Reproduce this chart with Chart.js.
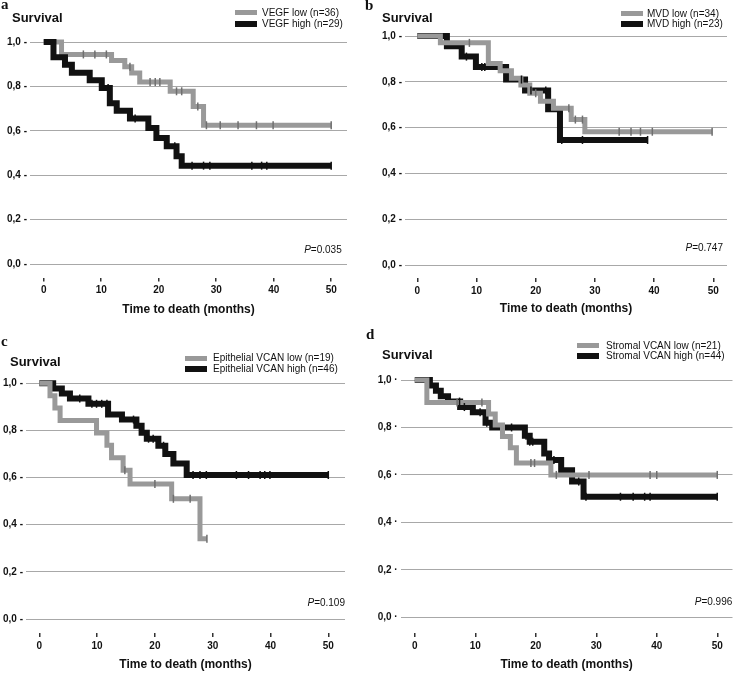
<!DOCTYPE html>
<html>
<head>
<meta charset="utf-8">
<script src="https://cdn.jsdelivr.net/npm/chart.js@4.4.1/dist/chart.umd.min.js"></script>
<style>
  body { margin: 0; background: #fff; }
  #page { position: relative; width: 738px; height: 673px; overflow: hidden; font-family: Arial, "Liberation Sans", sans-serif; color: #111; }
  canvas { position: absolute; }
  .txt { position: absolute; white-space: nowrap; }
  .letter { font-family: "Liberation Serif", "Times New Roman", serif; font-weight: bold; font-size: 15px; }
  .surv { font-weight: bold; font-size: 13px; line-height: 16px; }
  .pval { font-size: 10px; line-height: 12px; }
  .leg { font-size: 10px; line-height: 12px; display: flex; align-items: center; }
  .sw { display: inline-block; width: 22px; }
</style>
</head>
<body>
<div id="page"></div>
<script>
// tick values
const xTicks = [0, 10, 20, 30, 40, 50];
const yTicks = [0, 0.2, 0.4, 0.6, 0.8, 1.0];

// a: VEGF
const vegfLowTime = [0, 3.1, 11.8, 14.1, 15.3, 16.7, 22.0, 26.0, 27.8];
const vegfLowSurv = [1, 0.944, 0.917, 0.888, 0.86, 0.82, 0.778, 0.71, 0.625];
const vegfLowCens = [6.9, 8.9, 10.9, 15.0, 18.5, 19.4, 20.2, 23.1, 24.0, 26.8, 28.3, 30.7, 33.8, 37.0, 39.9, 50];
const vegfHighTime = [0, 1.7, 3.7, 4.9, 8.0, 10.1, 11.5, 12.7, 15.0, 18.2, 19.6, 21.4, 23.1, 24.0];
const vegfHighSurv = [1, 0.931, 0.897, 0.862, 0.828, 0.793, 0.724, 0.69, 0.655, 0.613, 0.568, 0.53, 0.485, 0.443];
const vegfHighCens = [11.2, 15.9, 22.8, 25.8, 27.8, 28.9, 36.2, 37.9, 38.8, 50];

// b: MVD
const mvdLowTime = [0, 3.9, 12.0, 14.0, 15.9, 17.5, 19.0, 20.8, 23.0, 26.0, 28.3];
const mvdLowSurv = [1, 0.97, 0.88, 0.848, 0.815, 0.786, 0.75, 0.715, 0.684, 0.635, 0.582];
const mvdLowCens = [8.8, 20.0, 25.6, 26.7, 27.9, 34.1, 36.1, 37.7, 39.7, 49.8];
const mvdHighTime = [0, 5.0, 7.5, 9.9, 15.0, 18.2, 22.1, 24.1];
const mvdHighSurv = [1, 0.955, 0.91, 0.865, 0.81, 0.762, 0.68, 0.546];
const mvdHighCens = [8.3, 10.9, 11.4, 17.6, 19.2, 21.7, 24.4, 27.9, 38.9];

// c: Epithelial VCAN
const epiLowTime = [0, 1.85, 2.7, 3.6, 9.9, 11.7, 12.5, 14.5, 15.7, 22.9, 27.8];
const epiLowSurv = [1, 0.947, 0.895, 0.842, 0.789, 0.737, 0.684, 0.631, 0.573, 0.51, 0.34];
const epiLowCens = [14.8, 20.0, 23.2, 26.1, 29.0];
const epiHighTime = [0, 2.4, 3.9, 5.3, 8.5, 11.9, 14.3, 16.8, 17.7, 18.6, 20.6, 21.8, 23.2, 25.5];
const epiHighSurv = [1, 0.978, 0.957, 0.935, 0.913, 0.868, 0.846, 0.82, 0.79, 0.765, 0.735, 0.70, 0.66, 0.611];
const epiHighCens = [7.0, 9.1, 9.9, 10.8, 11.7, 16.3, 18.9, 19.7, 21.5, 26.6, 27.8, 28.9, 34.1, 36.2, 38.2, 39.0, 39.9, 50];

// d: Stromal VCAN
const stroLowTime = [0, 2.0, 12.2, 13.3, 14.5, 15.8, 16.8, 22.5];
const stroLowSurv = [1, 0.905, 0.857, 0.81, 0.762, 0.714, 0.65, 0.60];
const stroLowCens = [7.0, 11.1, 19.2, 19.8, 23.4, 28.8, 38.9, 40.0, 50];
const stroHighTime = [0, 2.5, 3.5, 4.3, 5.5, 7.5, 9.6, 11.7, 12.8, 18.2, 19.0, 21.4, 22.2, 24.2, 26.0, 27.9];
const stroHighSurv = [1, 0.977, 0.955, 0.932, 0.909, 0.886, 0.864, 0.82, 0.80, 0.765, 0.74, 0.69, 0.663, 0.62, 0.572, 0.508];
const stroHighCens = [7.4, 8.2, 10.8, 11.9, 16.0, 18.4, 19.0, 19.5, 23.0, 27.1, 28.3, 34.0, 36.1, 38.0, 38.9, 50];

const panelLetters = ["a", "b", "c", "d"];
const lowNames = ["VEGF low (n=36)", "MVD low (n=34)", "Epithelial VCAN low (n=19)", "Stromal VCAN low (n=21)"];
const highNames = ["VEGF high (n=29)", "MVD high (n=23)", "Epithelial VCAN high (n=46)", "Stromal VCAN high (n=44)"];
const pValues = ["0.035", "0.747", "0.109", "0.996"];

const GRAY = "#999999";
const BLACK = "#111111";

// where each panel sits on the page (pixels)
const layouts = [
  { left: 0, top: 0, width: 369, x0: 30, x1: 347, y1: 42, y0: 264, tickTop: 277.5, m0: 43.7, mPx: 5.75, titleY: 310,
    letter: [1, -4], surv: [12, 18.3], p: [341.7, 250], leg: [235, 12.5, 24, 262], dash: " -", blackOnTop: true },
  { left: 369, top: 0, width: 369, x0: 405, x1: 727, y1: 36, y0: 265, tickTop: 278, m0: 417.3, mPx: 5.92, titleY: 308.5,
    letter: [365, -3], surv: [382, 18.3], p: [723, 248.3], leg: [621, 13.5, 24, 647], dash: " -", blackOnTop: false },
  { left: 0, top: 330, width: 369, x0: 26, x1: 345, y1: 383.3, y0: 619, tickTop: 633, m0: 39.3, mPx: 5.78, titleY: 665,
    letter: [1, 333], surv: [10, 361.7], p: [345, 603.3], leg: [185, 358, 368.8, 213], dash: " -", blackOnTop: false },
  { left: 369, top: 330, width: 369, x0: 400.7, x1: 738, y1: 380, y0: 617.3, tickTop: 633, m0: 415, mPx: 6.15, titleY: 665,
    letter: [366, 326], surv: [382, 355], p: [732.3, 601.7], leg: [577, 345.5, 355.5, 606], dash: " ·", blackOnTop: false },
];

const curves = [
  [vegfLowTime, vegfLowSurv, vegfLowCens, vegfHighTime, vegfHighSurv, vegfHighCens],
  [mvdLowTime, mvdLowSurv, mvdLowCens, mvdHighTime, mvdHighSurv, mvdHighCens],
  [epiLowTime, epiLowSurv, epiLowCens, epiHighTime, epiHighSurv, epiHighCens],
  [stroLowTime, stroLowSurv, stroLowCens, stroHighTime, stroHighSurv, stroHighCens],
];

// step curve runs on to the last censored case
function stepPoints(times, surv, cens) {
  let pts = times.map((t, i) => ({ x: t, y: surv[i] }));
  pts.push({ x: Math.max(...cens), y: surv[surv.length - 1] });
  return pts;
}

// censor tick sits on the curve at that time
function censorPoints(times, surv, cens) {
  return cens.map((t) => {
    let i = 0;
    while (i + 1 < times.length && times[i + 1] <= t) i++;
    return { x: t, y: surv[i] };
  });
}

function lineSet(pts, color, width) {
  return { data: pts, borderColor: color, borderWidth: width, stepped: true, pointRadius: 0, fill: false, clip: false };
}

function censSet(pts, color) {
  return { data: pts, showLine: false, pointStyle: "line", pointRotation: 90, pointRadius: 4,
    pointBorderWidth: 1.5, pointBorderColor: color, pointBackgroundColor: color, clip: false };
}

const page = document.getElementById("page");

function addText(cls, html, css) {
  let d = document.createElement("div");
  d.className = "txt " + cls;
  d.innerHTML = html;
  Object.assign(d.style, css);
  page.appendChild(d);
  return d;
}

Chart.defaults.font.family = 'Arial, "Liberation Sans", sans-serif';
Chart.defaults.color = "#111";

layouts.forEach((L, k) => {
  const [lt, ls, lc, ht, hs, hc] = curves[k];
  const canvasH = Math.round(L.titleY + 7.2 - L.top);
  let cv = document.createElement("canvas");
  cv.width = L.width;
  cv.height = canvasH;
  cv.style.left = L.left + "px";
  cv.style.top = L.top + "px";
  page.appendChild(cv);

  const kPx = L.y0 - L.y1;
  const yMin = -(L.tickTop - L.y0) / kPx;
  const xMin = (L.x0 - L.m0) / L.mPx;
  const xMax = (L.x1 - L.m0) / L.mPx;

  const grayLine = lineSet(stepPoints(lt, ls, lc), GRAY, 5);
  const blackLine = lineSet(stepPoints(ht, hs, hc), BLACK, 6);
  // first dataset is drawn last (on top)
  const datasets = [
    censSet(censorPoints(lt, ls, lc), "#6f6f6f"),
    censSet(censorPoints(ht, hs, hc), BLACK),
  ].concat(L.blackOnTop ? [blackLine, grayLine] : [grayLine, blackLine]);

  new Chart(cv, {
    type: "line",
    data: { datasets: datasets },
    options: {
      responsive: false,
      animation: false,
      layout: { padding: { left: 0, top: L.y1 - L.top, right: L.left + L.width - L.x1, bottom: 0 } },
      plugins: { legend: { display: false }, tooltip: { enabled: false } },
      scales: {
        x: {
          type: "linear",
          min: xMin,
          max: xMax,
          afterBuildTicks: (s) => { s.ticks = xTicks.map((v) => ({ value: v })); },
          afterFit: (s) => { s.height = L.top + canvasH - L.tickTop; },
          grid: { drawOnChartArea: false, drawTicks: true, tickLength: 4, color: "#333", lineWidth: 1.5 },
          border: { display: false },
          ticks: { padding: 3, font: { size: 10, weight: "bold" }, maxRotation: 0 },
          title: { display: true, text: "Time to death (months)", padding: 0, font: { size: 12, weight: "bold" } },
        },
        y: {
          type: "linear",
          min: yMin,
          max: 1.0,
          afterBuildTicks: (s) => { s.ticks = yTicks.map((v) => ({ value: v })); },
          afterFit: (s) => { s.width = L.x0 - L.left; },
          grid: { drawTicks: false, color: "#a8a8a8", lineWidth: 1 },
          border: { display: false },
          ticks: {
            padding: 3,
            font: { size: 10, weight: "bold" },
            callback: (v) => v.toFixed(1).replace(".", ",") + L.dash,
          },
        },
      },
    },
  });

  // labels around the plot
  addText("letter", panelLetters[k], { left: L.letter[0] + "px", top: L.letter[1] + "px" });
  addText("surv", "Survival", { left: L.surv[0] + "px", top: L.surv[1] - 8 + "px" });
  addText("pval", "<i>P</i>=" + pValues[k], { right: 738 - L.p[0] + "px", top: L.p[1] - 6 + "px" });
  const [swX, cyLow, cyHigh, txX] = L.leg;
  [[lowNames[k], cyLow, GRAY, 5], [highNames[k], cyHigh, BLACK, 6]].forEach(([name, cy, col, h]) => {
    addText("leg", '<span class="sw" style="height:' + h + "px;background:" + col + ';"></span><span style="margin-left:' +
      (txX - swX - 22) + 'px">' + name + "</span>", { left: swX + "px", top: cy - 6 + "px", height: "12px" });
  });
});
</script>
</body>
</html>
